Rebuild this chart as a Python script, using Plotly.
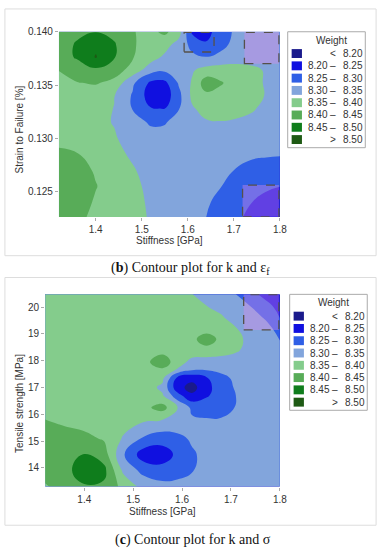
import plotly.graph_objects as go

W, H = 388, 550

# ---------------- data ----------------
stiffness_b = [1.32, 1.36, 1.40, 1.44, 1.48, 1.52, 1.55, 1.58, 1.61, 1.64, 1.67, 1.70, 1.74, 1.77, 1.80]
strain_b = [0.1226, 0.1240, 0.1255, 0.1270, 0.1285, 0.1300, 0.1315, 0.1328,
            0.1340, 0.1352, 0.1364, 0.1376, 0.1388, 0.1400]
weight_b = [
    [8.420, 8.410, 8.390, 8.375, 8.360, 8.347, 8.335, 8.322, 8.312, 8.300, 8.285, 8.265, 8.235, 8.215, 8.205],
    [8.430, 8.420, 8.395, 8.378, 8.360, 8.345, 8.332, 8.322, 8.315, 8.305, 8.290, 8.275, 8.250, 8.235, 8.225],
    [8.435, 8.428, 8.402, 8.380, 8.360, 8.340, 8.330, 8.322, 8.315, 8.310, 8.302, 8.285, 8.268, 8.258, 8.251],
    [8.425, 8.418, 8.395, 8.375, 8.355, 8.330, 8.322, 8.318, 8.315, 8.310, 8.305, 8.300, 8.290, 8.285, 8.280],
    [8.410, 8.402, 8.380, 8.365, 8.342, 8.325, 8.320, 8.320, 8.318, 8.315, 8.312, 8.310, 8.305, 8.304, 8.303],
    [8.385, 8.380, 8.370, 8.356, 8.325, 8.315, 8.315, 8.318, 8.320, 8.325, 8.327, 8.325, 8.320, 8.315, 8.310],
    [8.377, 8.373, 8.365, 8.347, 8.315, 8.295, 8.297, 8.315, 8.332, 8.345, 8.348, 8.345, 8.338, 8.330, 8.320],
    [8.375, 8.372, 8.365, 8.349, 8.298, 8.252, 8.249, 8.297, 8.345, 8.368, 8.372, 8.368, 8.355, 8.338, 8.325],
    [8.375, 8.375, 8.370, 8.352, 8.295, 8.225, 8.222, 8.285, 8.362, 8.388, 8.385, 8.380, 8.368, 8.347, 8.330],
    [8.385, 8.398, 8.405, 8.385, 8.310, 8.240, 8.238, 8.305, 8.356, 8.428, 8.405, 8.385, 8.366, 8.345, 8.330],
    [8.401, 8.425, 8.440, 8.425, 8.380, 8.320, 8.310, 8.315, 8.345, 8.368, 8.376, 8.376, 8.362, 8.345, 8.328],
    [8.430, 8.455, 8.503, 8.453, 8.403, 8.370, 8.340, 8.320, 8.310, 8.302, 8.312, 8.322, 8.327, 8.325, 8.325],
    [8.430, 8.455, 8.490, 8.455, 8.405, 8.380, 8.370, 8.330, 8.285, 8.255, 8.285, 8.310, 8.320, 8.320, 8.320],
    [8.420, 8.440, 8.448, 8.435, 8.402, 8.390, 8.410, 8.375, 8.240, 8.235, 8.270, 8.305, 8.320, 8.320, 8.320],
]

stiffness_c = [1.32, 1.36, 1.40, 1.44, 1.48, 1.52, 1.56, 1.59, 1.62, 1.65, 1.68, 1.71, 1.74, 1.77, 1.80]
tensile_c = [13.3, 13.9, 14.5, 15.1, 15.7, 16.25, 16.7, 17.0, 17.35, 17.7, 17.95,
             18.4, 18.8, 19.2, 19.6, 20.0, 20.48]
weight_c = [
    [8.395, 8.420, 8.445, 8.440, 8.385, 8.335, 8.315, 8.312, 8.315, 8.318, 8.320, 8.320, 8.322, 8.323, 8.323],
    [8.420, 8.435, 8.475, 8.465, 8.340, 8.285, 8.272, 8.285, 8.298, 8.310, 8.315, 8.318, 8.320, 8.322, 8.323],
    [8.435, 8.440, 8.452, 8.425, 8.305, 8.225, 8.220, 8.262, 8.295, 8.310, 8.315, 8.318, 8.320, 8.322, 8.323],
    [8.430, 8.425, 8.412, 8.395, 8.345, 8.295, 8.275, 8.290, 8.305, 8.310, 8.312, 8.315, 8.318, 8.320, 8.322],
    [8.405, 8.392, 8.385, 8.378, 8.368, 8.350, 8.335, 8.322, 8.310, 8.310, 8.308, 8.312, 8.316, 8.318, 8.320],
    [8.378, 8.380, 8.382, 8.384, 8.386, 8.385, 8.420, 8.352, 8.290, 8.275, 8.282, 8.302, 8.312, 8.318, 8.320],
    [8.378, 8.380, 8.382, 8.385, 8.387, 8.385, 8.355, 8.270, 8.210, 8.245, 8.270, 8.300, 8.315, 8.320, 8.322],
    [8.378, 8.380, 8.382, 8.385, 8.385, 8.375, 8.340, 8.220, 8.180, 8.235, 8.275, 8.305, 8.318, 8.320, 8.322],
    [8.377, 8.378, 8.380, 8.382, 8.384, 8.382, 8.360, 8.240, 8.215, 8.245, 8.285, 8.310, 8.322, 8.322, 8.322],
    [8.376, 8.377, 8.378, 8.380, 8.382, 8.385, 8.397, 8.350, 8.315, 8.310, 8.315, 8.322, 8.325, 8.322, 8.320],
    [8.375, 8.376, 8.377, 8.378, 8.380, 8.383, 8.430, 8.375, 8.335, 8.335, 8.335, 8.332, 8.328, 8.322, 8.318],
    [8.375, 8.376, 8.377, 8.377, 8.378, 8.378, 8.382, 8.380, 8.377, 8.372, 8.365, 8.355, 8.338, 8.325, 8.315],
    [8.375, 8.375, 8.376, 8.377, 8.378, 8.378, 8.378, 8.378, 8.380, 8.440, 8.380, 8.360, 8.340, 8.320, 8.298],
    [8.375, 8.375, 8.375, 8.375, 8.375, 8.375, 8.374, 8.372, 8.369, 8.365, 8.360, 8.352, 8.335, 8.315, 8.285],
    [8.375, 8.375, 8.375, 8.375, 8.375, 8.374, 8.372, 8.368, 8.363, 8.358, 8.355, 8.335, 8.318, 8.297, 8.250],
    [8.375, 8.375, 8.375, 8.375, 8.374, 8.372, 8.368, 8.362, 8.357, 8.352, 8.340, 8.325, 8.302, 8.270, 8.235],
    [8.375, 8.375, 8.375, 8.375, 8.372, 8.368, 8.362, 8.356, 8.351, 8.335, 8.318, 8.300, 8.265, 8.235, 8.215],
]

level_start, level_end, level_size = 8.20, 8.50, 0.05
band_low = ["", "8.20", "8.25", "8.30", "8.35", "8.40", "8.45", ""]
band_sep = ["<", "–", "–", "–", "–", "–", "–", ">"]
band_high = ["8.20", "8.25", "8.30", "8.35", "8.40", "8.45", "8.50", "8.50"]
band_colors = ["#1a1a8c", "#1010e0", "#2f5fe6", "#82a5dc",
               "#84cc8c", "#58ac58", "#0f7d1c", "#1e5a14"]

x_ticks = [1.4, 1.5, 1.6, 1.7, 1.8]
x_ticktext = ["1.4", "1.5", "1.6", "1.7", "1.8"]
yb_ticks = [0.125, 0.130, 0.135, 0.140]
yb_ticktext = ["0.125", "0.130", "0.135", "0.140"]
yc_ticks = [14, 15, 16, 17, 18, 19, 20]
yc_ticktext = ["14", "15", "16", "17", "18", "19", "20"]

# highlighted regions (x0, x1, y0, y1, filled)
boxes_b = [(1.592, 1.657, 0.1381, 0.13995, False),
           (1.723, 1.798, 0.1370, 0.13995, True),
           (1.719, 1.798, 0.12262, 0.1256, True)]
boxes_c = [(1.726, 1.798, 19.15, 20.47, True)]

# ---------------- styling ----------------
SANS = "Liberation Sans, Arial, sans-serif"
SERIF = "Liberation Serif, Times New Roman, serif"
TXT = "#333333"


def px(xp):
    return xp / W


def py(yp):
    return 1 - yp / H


n = len(band_colors)
cscale = []
for i, c in enumerate(band_colors):
    lo = max(0.0, (2 * i - 1) / (2 * (n - 1)))
    hi = min(1.0, (2 * i + 1) / (2 * (n - 1)))
    cscale.append([lo, c])
    cscale.append([hi, c])

contour_opts = dict(start=level_start, end=level_end, size=level_size,
                    coloring="fill", showlines=False)

fig = go.Figure()
fig.add_trace(go.Contour(x=stiffness_b, y=strain_b, z=weight_b, xaxis="x", yaxis="y",
                         colorscale=cscale, autocontour=False, contours=contour_opts,
                         line=dict(width=0, smoothing=1.3), showscale=False,
                         hoverinfo="skip"))
fig.add_trace(go.Contour(x=stiffness_c, y=tensile_c, z=weight_c, xaxis="x2", yaxis="y2",
                         colorscale=cscale, autocontour=False, contours=contour_opts,
                         line=dict(width=0, smoothing=1.3), showscale=False,
                         hoverinfo="skip"))

axis_common = dict(showgrid=False, zeroline=False, ticks="outside", ticklen=3,
                   tickcolor="#aaaaaa", tickfont=dict(family=SANS, size=10, color=TXT),
                   showline=False, fixedrange=True)

shapes = []
annotations = []

# panel frames
for (x0, y0, x1, y1) in [(5, 4, 383, 253), (5, 275, 383, 525)]:
    shapes.append(dict(type="rect", xref="paper", yref="paper", x0=px(x0), x1=px(x1),
                       y0=py(y1), y1=py(y0), line=dict(color="#dddddd", width=1),
                       layer="below"))

# dashed region boxes
for boxes, xr, yr in [(boxes_b, "x", "y"), (boxes_c, "x2", "y2")]:
    for (x0, x1, y0, y1, filled) in boxes:
        shapes.append(dict(type="rect", xref=xr, yref=yr, x0=x0, x1=x1, y0=y0, y1=y1,
                           line=dict(color="#55504a", width=1.3, dash="dash"),
                           fillcolor="rgba(220,138,232,0.40)" if filled else "rgba(0,0,0,0)"))


def add_legend(left, top):
    shapes.append(dict(type="rect", xref="paper", yref="paper", x0=px(left), x1=px(left + 79),
                       y0=py(top + 117), y1=py(top), line=dict(color="#aaaaaa", width=1),
                       fillcolor="white"))
    annotations.append(dict(text="Weight", x=px(left + 45), y=py(top + 8.5), xref="paper",
                            yref="paper", showarrow=False, xanchor="center", yanchor="middle",
                            font=dict(family=SANS, size=10, color=TXT)))
    for i in range(len(band_colors)):
        yc = top + 22 + i * 12.4
        shapes.append(dict(type="rect", xref="paper", yref="paper", x0=px(left + 4),
                           x1=px(left + 14.5), y0=py(yc + 4.5), y1=py(yc - 4.5),
                           line=dict(width=0), fillcolor=band_colors[i]))
        for txt, xx, anc in [(band_low[i], left + 19, "left"), (band_sep[i], left + 46, "center"),
                             (band_high[i], left + 54, "left")]:
            if txt:
                annotations.append(dict(text=txt, x=px(xx), y=py(yc), xref="paper", yref="paper",
                                        showarrow=False, xanchor=anc, yanchor="middle",
                                        font=dict(family=SANS, size=10, color=TXT)))


add_legend(293, 27)
add_legend(295, 292)

# axis titles
for text, x, y, ang in [("Stiffness [GPa]", 172.5, 238, 0),
                        ("Strain to Failure [%]", 20, 126, -90),
                        ("Stiffness [GPa]", 165.5, 511, 0),
                        ("Tensile strength [MPa]", 20, 402, -90)]:
    annotations.append(dict(text=text, x=px(x), y=py(y), xref="paper", yref="paper",
                            showarrow=False, xanchor="center", yanchor="middle", textangle=ang,
                            font=dict(family=SANS, size=10, color=TXT)))

# captions
for text, x, y in [("(<b>b</b>) Contour plot for k and ε<sub>f</sub>", 194, 266),
                   ("(<b>c</b>) Contour plot for k and σ", 197, 540)]:
    annotations.append(dict(text=text, x=px(x), y=py(y), xref="paper", yref="paper",
                            showarrow=False, xanchor="center", yanchor="middle",
                            font=dict(family=SERIF, size=14, color="#111111")))

fig.update_layout(
    width=W, height=H, margin=dict(l=0, r=0, t=0, b=0),
    paper_bgcolor="white", plot_bgcolor="white", showlegend=False,
    xaxis=dict(domain=[px(60), px(285)], anchor="y", range=[1.32, 1.80],
               tickvals=x_ticks, ticktext=x_ticktext, **axis_common),
    yaxis=dict(domain=[py(214), py(27)], anchor="x", range=[0.1226, 0.1400],
               tickvals=yb_ticks, ticktext=yb_ticktext, **axis_common),
    xaxis2=dict(domain=[px(46), px(285)], anchor="y2", range=[1.32, 1.80],
                tickvals=x_ticks, ticktext=x_ticktext, **axis_common),
    yaxis2=dict(domain=[py(486), py(292)], anchor="x2", range=[13.3, 20.48],
                tickvals=yc_ticks, ticktext=yc_ticktext, **axis_common),
    shapes=shapes, annotations=annotations,
)

fig.write_html("out.html", config={"displayModeBar": False},
               post_script="document.body.style.margin='0';document.body.style.padding='0';")
